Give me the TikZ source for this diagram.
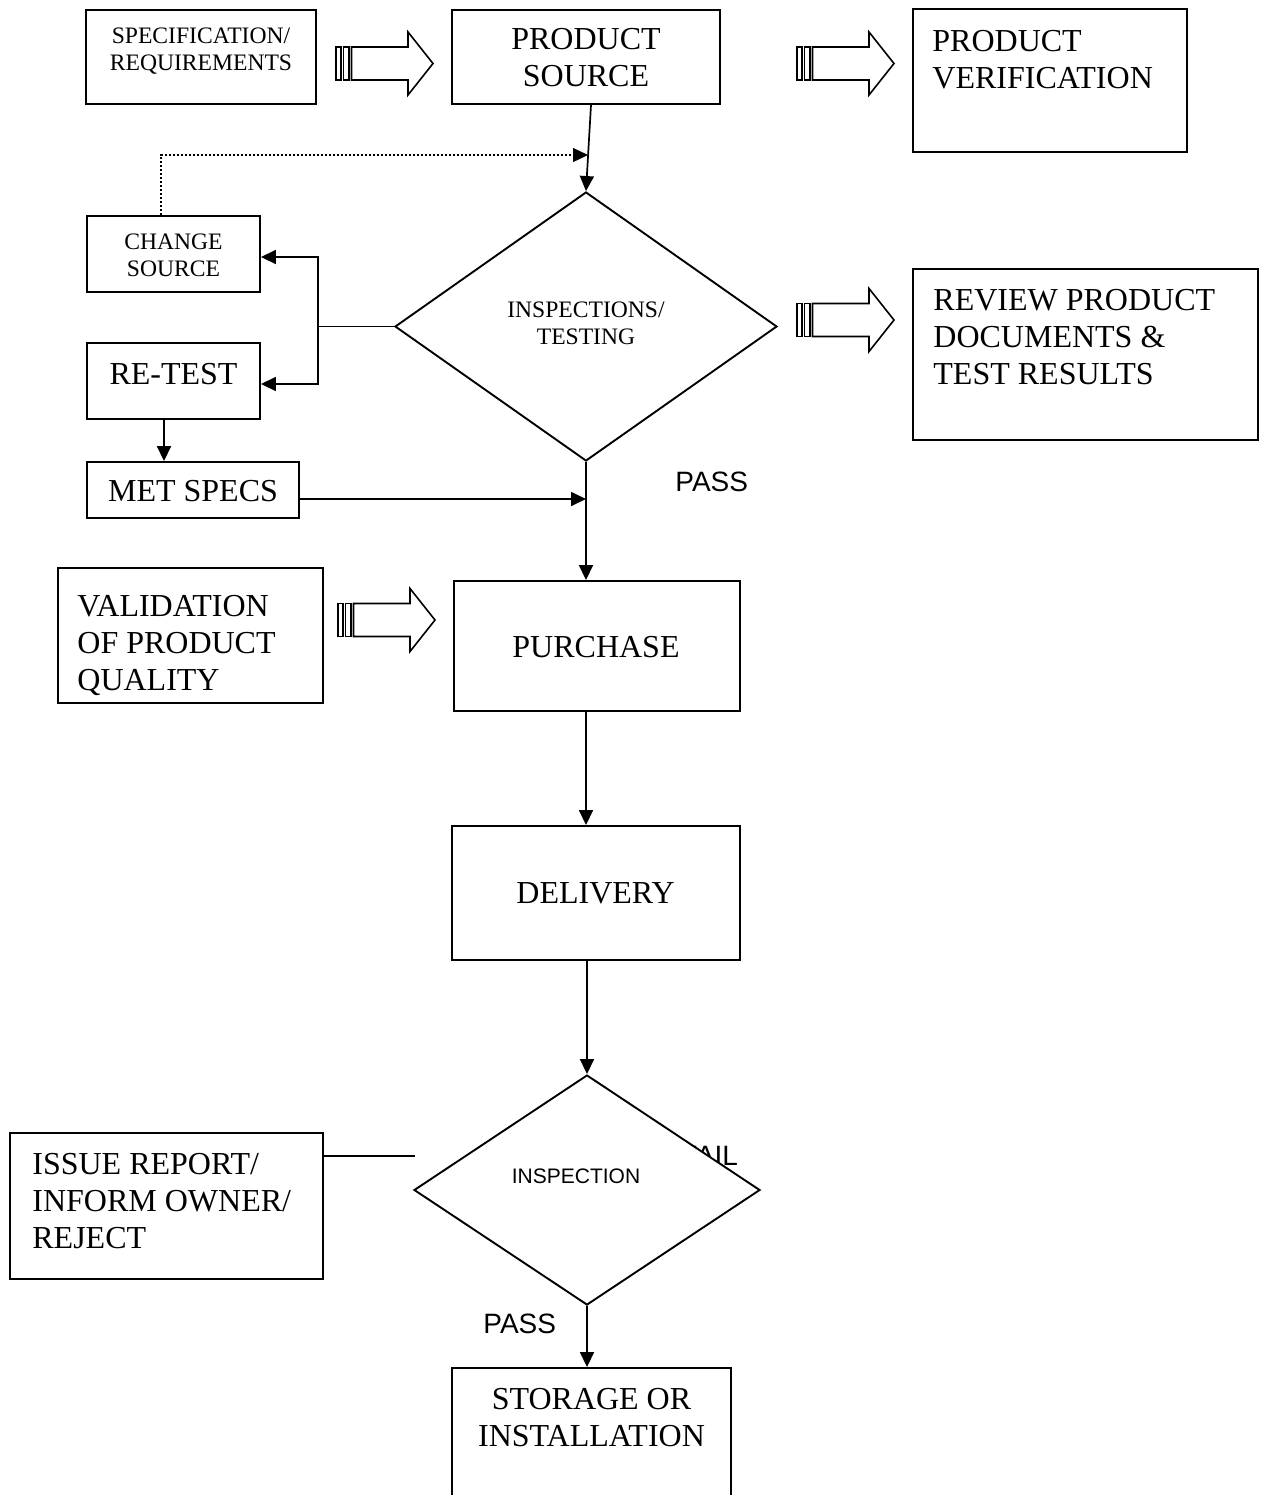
\documentclass[tikz,border=0pt]{standalone}
\usepackage{fontspec}
\setmainfont{Liberation Serif}
\newfontfamily\sansf{Liberation Sans}
\usetikzlibrary{shapes.geometric,arrows.meta,fit,calc}
\tikzset{
  base/.style={line width=0.9pt},
  box/.style={draw, rectangle, line width=0.95pt, inner sep=0pt},
  big/.style={font=\fontsize{16}{18.5}\selectfont},
  small/.style={font=\fontsize{11.8}{13.5}\selectfont},
  txt/.style={inner sep=0pt},
  arr/.style={line width=0.85pt, -{Triangle[length=7.5pt,width=7pt]}},
  dotline/.style={line width=0.65pt, dash pattern=on 0.8pt off 1.2pt, -{Triangle[length=7.5pt,width=7pt]}},
  dia/.style={draw, shape=diamond, line width=0.95pt, inner sep=0pt, fill=white},
  lbl/.style={font=\sansf\fontsize{14}{16}\selectfont, inner sep=0pt},
  striparrow/.pic={
    \draw[line width=0.8pt] (0,-16.5) rectangle (5,16.5);
    \draw[line width=0.8pt] (7.5,-16.5) rectangle (13,16.5);
    \draw[line width=0.8pt, line join=miter] (15.5,-16.5) -- (72,-16.5) -- (72,-31.5) -- (97,0)
       -- (72,31.5) -- (72,16.5) -- (15.5,16.5) -- cycle;
  }
}
\begin{document}
\begin{tikzpicture}[x=0.5pt,y=-0.5pt]
\useasboundingbox (0,0) rectangle (1261,1495);
\clip (0,0) rectangle (1261,1495);

% boxes
\node[box, fit={(86,10) (316,104)}] (spec) {};
\node[txt, small, align=center] (spectext) at (201,51.5) {SPECIFICATION/\\REQUIREMENTS};

\node[box, fit={(452,10) (720,104)}] (src) {};
\node[txt, big, align=center] (srctext) at (586,58) {PRODUCT\\SOURCE};

\node[box, fit={(913,9) (1187,152)}] (ver) {};
\node[txt, big, align=left, anchor=north west] (vertext) at (932,30) {PRODUCT\\VERIFICATION};

\node[box, fit={(87,216) (260,292)}] (chg) {};
\node[txt, small, align=center] (chgtext) at (173.5,255) {CHANGE\\SOURCE};

\node[box, fit={(87,343) (260,419)}] (rt) {};
\node[txt, big, anchor=base] (rttext) at (173.5,384) {RE-TEST};

\node[box, fit={(87,462) (299,518)}] (met) {};
\node[txt, big] (mettext) at (193,491) {MET SPECS};

\node[box, fit={(913,269) (1258,440)}] (rev) {};
\node[txt, big, align=left, anchor=north west] (revtext) at (933,289) {REVIEW PRODUCT\\DOCUMENTS \&\\TEST RESULTS};

\node[box, fit={(58,568) (323,703)}] (val) {};
\node[txt, big, align=left, anchor=north west] (valtext) at (77,595) {VALIDATION\\OF PRODUCT\\QUALITY};

\node[box, fit={(454,581) (740,711)}] (pur) {};
\node[txt, big] (purtext) at (596,647) {PURCHASE};

\node[box, fit={(452,826) (740,960)}] (del) {};
\node[txt, big] (deltext) at (595.5,893) {DELIVERY};

\node[box, fit={(10,1133) (323,1279)}] (iss) {};
\node[txt, big, align=left, anchor=north west] (isstext) at (32,1153) {ISSUE REPORT/\\INFORM OWNER/\\REJECT};

\node[box, fit={(452,1368) (731,1520)}] (sto) {};
\node[txt, big, align=center, anchor=north] (stotext) at (591.5,1388) {STORAGE OR\\INSTALLATION};

% diamonds
\node[dia, minimum width=191pt, minimum height=134.5pt] (insp1) at (586,326.5) {};
\node[txt, small, align=center] (insp1text) at (586,323) {INSPECTIONS/\\TESTING};

\node[lbl, anchor=base west] (fail) at (680,1165) {FAIL};
\node[dia, minimum width=173pt, minimum height=115pt] (insp2) at (587,1190) {};
\node[txt, font=\sansf\fontsize{10.5}{12}\selectfont] (insp2text) at (576,1176) {INSPECTION};

% labels
\node[lbl, anchor=base west] (pass1) at (675,491) {PASS};
\node[lbl, anchor=base west] (pass2) at (483,1333) {PASS};

% block arrows
\pic at (336,63.5) {striparrow};
\pic at (797,63.5) {striparrow};
\pic at (797,320) {striparrow};
\pic at (338,620) {striparrow};

% connectors
\draw[arr] ([xshift=2.5pt]src.south) -- (insp1.north);
\coordinate (dotend) at (588,155);
\draw[dotline] ([xshift=-6.25pt]chg.north) |- (dotend);

\coordinate (split) at (318,326.5);
\draw[base] (insp1.west) -- (split);
\draw[arr] (split) |- ([yshift=-1.5pt]chg.east);
\draw[arr] (split) |- ([yshift=-1.5pt]rt.east);

\draw[arr] ([xshift=-4.75pt]rt.south) -- ([xshift=-4.75pt]rt.south |- met.north);
\draw[arr] ([yshift=-4.5pt]met.east) -- ([yshift=-4.5pt]met.east -| insp1.south);

\draw[arr] (insp1.south) -- (insp1.south |- pur.north);
\draw[arr] (pur.south -| insp1.south) -- (del.north -| insp1.south);
\draw[arr] (del.south -| insp2.north) -- (insp2.north);
\draw[arr] (insp2.south) -- (insp2.south |- sto.north);

\draw[base] ([yshift=-12pt]iss.north east) -- ++(91,0);
\end{tikzpicture}
\end{document}
